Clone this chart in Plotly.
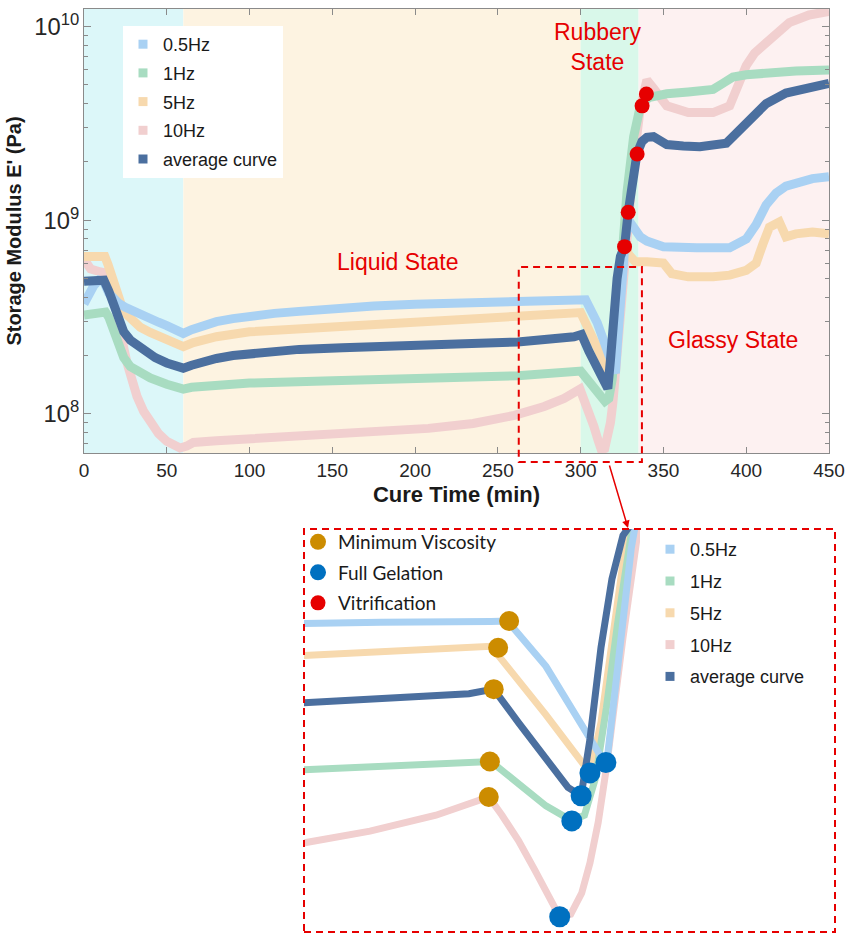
import plotly.graph_objects as go

W, H = 845, 935

# ---------------- data ----------------
t_05 = [0, 3, 6, 9, 12, 15, 18, 21, 25, 30, 35, 40, 45, 50, 55, 60, 65, 70, 80, 90, 100, 115, 130, 150,
        175, 200, 225, 250, 280, 300, 303, 310, 316, 321, 322.5, 324, 325.5, 327, 329, 332, 336, 340,
        350, 370, 390, 400, 406, 412, 418, 424, 432, 440, 450]
E_05 = [3.7e8, 4.2e8, 4.6e8, 4.9e8, 4.8e8, 4.2e8, 3.9e8, 3.72e8, 3.55e8, 3.37e8, 3.22e8, 3.1e8, 2.97e8,
        2.85e8, 2.72e8, 2.6e8, 2.72e8, 2.82e8, 2.99e8, 3.1e8, 3.2e8, 3.3e8, 3.38e8, 3.5e8, 3.6e8, 3.68e8,
        3.74e8, 3.8e8, 3.85e8, 3.87e8, 3.88e8, 2.95e8, 2.15e8, 1.62e8, 2.5e8, 4.0e8, 6.0e8, 8.0e8,
        1.0e9, 9.2e8, 8.2e8, 7.8e8, 7.3e8, 7.2e8, 7.2e8, 8.0e8, 9.5e8, 1.2e9, 1.38e9, 1.5e9, 1.58e9,
        1.64e9, 1.68e9]

t_1 = [0, 13, 15, 17, 19, 21, 24, 28, 34, 40, 50, 60, 65, 70, 80, 100, 150, 200, 262, 300, 305, 310,
       314.7, 317, 319, 321, 323, 325, 328, 332, 336, 341, 352, 365, 380, 386, 392, 400, 412, 430, 450]
E_1 = [3.24e8, 3.35e8, 3.15e8, 2.8e8, 2.45e8, 2.2e8, 1.95e8, 1.75e8, 1.62e8, 1.53e8, 1.42e8, 1.34e8,
       1.37e8, 1.38e8, 1.41e8, 1.44e8, 1.48e8, 1.52e8, 1.57e8, 1.66e8, 1.45e8, 1.27e8, 1.16e8, 1.2e8,
       1.5e8, 2.3e8, 3.8e8, 6.5e8, 1.4e9, 2.7e9, 3.87e9, 4.3e9, 4.5e9, 4.6e9, 4.74e9, 5.1e9, 5.5e9,
       5.65e9, 5.8e9, 5.9e9, 5.97e9]

t_5 = [0, 12.6, 14.5, 16, 18, 20, 23, 26, 30, 34, 40, 46, 53, 60, 66, 73, 80, 100, 125, 156, 200, 262,
       300, 310, 318, 320, 322, 324, 326, 330, 333, 340, 350, 355, 365, 380, 390, 400, 406, 410, 414,
       420, 424, 430, 440, 450]
E_5 = [6.5e8, 6.5e8, 5.9e8, 5.3e8, 4.6e8, 4.0e8, 3.55e8, 3.24e8, 3.0e8, 2.8e8, 2.63e8, 2.5e8, 2.35e8,
       2.22e8, 2.33e8, 2.43e8, 2.5e8, 2.65e8, 2.73e8, 2.8e8, 2.95e8, 3.13e8, 3.33e8, 2.2e8, 1.55e8,
       2.1e8, 3.5e8, 5.5e8, 7.3e8, 6.5e8, 6.1e8, 6.1e8, 6.0e8, 5.3e8, 5.1e8, 5.1e8, 5.2e8, 5.5e8,
       6.0e8, 7.5e8, 9.2e8, 9.8e8, 8.2e8, 8.5e8, 8.7e8, 8.5e8]

t_10 = [0, 4, 10, 15, 18, 20, 23, 26, 29, 32, 36, 40, 45, 50, 55, 58, 62, 66, 80, 100, 130, 156, 208,
        235, 260, 278, 290, 299.6, 302, 305, 308, 310.5, 312.5, 314.5, 316.5, 318, 319.5, 321, 324, 328,
        332, 336, 340, 344, 348, 352, 365, 380, 390, 395, 400, 405, 410, 416, 426, 438, 446, 450]
E_10 = [6.3e8, 5.6e8, 5.4e8, 5.3e8, 4.2e8, 3.2e8, 2.4e8, 1.83e8, 1.45e8, 1.23e8, 1.03e8, 9.0e7, 7.9e7,
        7.2e7, 6.8e7, 6.65e7, 6.8e7, 7.1e7, 7.25e7, 7.4e7, 7.65e7, 7.9e7, 8.4e7, 8.9e7, 9.8e7, 1.09e8,
        1.2e8, 1.34e8, 1.2e8, 1.03e8, 8.6e7, 7.3e7, 6.5e7, 6.6e7, 7.5e7, 9.0e7, 1.15e8, 1.6e8, 3.5e8,
        9.0e8, 2.0e9, 3.8e9, 5.3e9, 4.8e9, 4.3e9, 3.9e9, 3.6e9, 3.6e9, 3.9e9, 4.9e9, 6.3e9, 7.3e9,
        8.0e9, 9.0e9, 1.05e10, 1.15e10, 1.18e10, 1.2e10]

t_avg = [0, 5, 12, 15, 17, 19, 21, 24, 28, 32, 37, 43, 50, 56, 60, 65, 72, 80, 90, 100, 115, 130, 156,
         200, 262, 296, 300.5, 305, 310, 314, 316.4, 318, 320, 322, 324, 326.5, 328.7, 331, 334, 337,
         340, 344, 352, 362, 372, 388, 396, 404, 412, 424, 436, 444, 450]
E_avg = [4.83e8, 4.9e8, 4.9e8, 4.3e8, 3.85e8, 3.35e8, 2.95e8, 2.65e8, 2.4e8, 2.25e8, 2.1e8, 1.95e8,
         1.83e8, 1.76e8, 1.72e8, 1.78e8, 1.86e8, 1.93e8, 2.0e8, 2.05e8, 2.1e8, 2.15e8, 2.19e8, 2.25e8,
         2.35e8, 2.5e8, 2.57e8, 2.1e8, 1.7e8, 1.42e8, 1.35e8, 1.9e8, 3.3e8, 5.0e8, 6.5e8, 7.3e8, 1.1e9,
         1.6e9, 2.2e9, 2.55e9, 2.68e9, 2.7e9, 2.46e9, 2.42e9, 2.4e9, 2.5e9, 2.92e9, 3.43e9, 4.0e9,
         4.54e9, 4.85e9, 5.0e9, 5.1e9]

vit_t = [326.5, 328.7, 334.1, 337.1, 339.7]
vit_E = [7.3e8, 1.1e9, 2.2e9, 3.9e9, 4.49e9]

minvis_t = [303.3, 301.3, 300.5, 299.8, 299.6]
minvis_E = [3.88e8, 3.3e8, 2.57e8, 1.66e8, 1.34e8]

gel_t = [320.9, 318.0, 316.4, 314.7, 312.5]
gel_E = [1.65e8, 1.55e8, 1.35e8, 1.16e8, 6.5e7]

series_names = ["0.5Hz", "1Hz", "5Hz", "10Hz", "average curve"]
x_ticks = [0, 50, 100, 150, 200, 250, 300, 350, 400, 450]
state_bands = [(0, 60), (60, 300), (300, 335), (335, 450)]
state_labels = ["Liquid State", "Rubbery<br>State", "Glassy State"]

# ---------------- styling ----------------
colors = {"0.5Hz": "#a9d1f3", "1Hz": "#a8dcc1", "5Hz": "#f7d9ae", "10Hz": "#f1cfcf",
          "average curve": "#4b6f9f"}
band_colors = ["#dcf7f9", "#fdf3e1", "#d9f8ea", "#fdf1f1"]
RED = "#e60000"
GOLD = "#cc8c00"
BLUE = "#0070c0"
FONT = "Arial, Liberation Sans, sans-serif"

X_LEFT, X_RIGHT = 84, 829


def px(x):
    return x / W


def py(y):
    return 1 - y / H


def tx(t):
    # pixel position of a time value on the main axis (for frame shapes)
    return X_LEFT + (X_RIGHT - X_LEFT) * t / 450


data = {"0.5Hz": (t_05, E_05), "1Hz": (t_1, E_1), "5Hz": (t_5, E_5), "10Hz": (t_10, E_10),
        "average curve": (t_avg, E_avg)}
draw_order = ["10Hz", "5Hz", "1Hz", "0.5Hz", "average curve"]

fig = go.Figure()

# main curves
for n in draw_order:
    t, E = data[n]
    fig.add_trace(go.Scatter(x=t, y=E, mode="lines", line=dict(color=colors[n], width=9),
                             showlegend=False, hoverinfo="skip", xaxis="x", yaxis="y"))
# inset curves
for n in draw_order:
    t, E = data[n]
    fig.add_trace(go.Scatter(x=t, y=E, mode="lines", line=dict(color=colors[n], width=7),
                             showlegend=False, hoverinfo="skip", xaxis="x2", yaxis="y2"))

# legend entries (square markers) for main and inset legends
for i, n in enumerate(series_names):
    for lg in ["legend", "legend2"]:
        fig.add_trace(go.Scatter(x=[None], y=[None], mode="markers", name=n,
                                 marker=dict(symbol="square", size=9, color=colors[n]),
                                 legend=lg, legendgroup=lg + n, legendrank=i + 1,
                                 xaxis="x", yaxis="y"))

# characteristic points
fig.add_trace(go.Scatter(x=minvis_t, y=minvis_E, mode="markers", name="Minimum Viscosity",
                         marker=dict(color=GOLD, size=20), legend="legend3", legendgroup="mv",
                         legendrank=1, xaxis="x2", yaxis="y2"))
fig.add_trace(go.Scatter(x=gel_t, y=gel_E, mode="markers", name="Full Gelation",
                         marker=dict(color=BLUE, size=21), legend="legend3", legendgroup="fg",
                         legendrank=2, xaxis="x2", yaxis="y2"))
fig.add_trace(go.Scatter(x=vit_t, y=vit_E, mode="markers", name="Vitrification",
                         marker=dict(color=RED, size=15), legend="legend3", legendgroup="vi",
                         legendrank=3, xaxis="x", yaxis="y"))

shapes = []
for (a, b), c in zip(state_bands, band_colors):
    shapes.append(dict(type="rect", xref="x", yref="y domain", x0=a, x1=b, y0=0, y1=1,
                       fillcolor=c, line=dict(width=0), layer="below"))
# zoom box on main chart and the inset frame
shapes.append(dict(type="rect", xref="x", yref="paper", x0=262.6, x1=337, y0=py(462),
                   y1=py(267), line=dict(color=RED, width=2, dash="7px,5px"), layer="above"))
shapes.append(dict(type="rect", xref="paper", yref="paper", x0=px(304), x1=px(835), y0=py(932),
                   y1=py(529), line=dict(color=RED, width=2, dash="7px,5px"), layer="above"))

annotations = [
    dict(text=state_labels[0], x=px(397), y=py(262), xref="paper", yref="paper", showarrow=False,
         font=dict(family=FONT, size=23, color=RED), xanchor="center", yanchor="middle"),
    dict(text=state_labels[1], x=px(597), y=py(47), xref="paper", yref="paper", showarrow=False,
         font=dict(family=FONT, size=23, color=RED), xanchor="center", yanchor="middle"),
    dict(text=state_labels[2], x=px(733), y=py(340), xref="paper", yref="paper", showarrow=False,
         font=dict(family=FONT, size=23, color=RED), xanchor="center", yanchor="middle"),
    dict(text="", x=px(628), y=py(528), xref="paper", yref="paper", showarrow=True, ax=-19, ay=-64,
         arrowhead=2, arrowsize=1, arrowwidth=1.5, arrowcolor=RED),
]

axis_col = "#8a8a8a"
tick_font = dict(family=FONT, size=19, color="#262626")

fig.update_layout(
    width=W, height=H, autosize=False,
    margin=dict(l=0, r=0, t=0, b=0),
    paper_bgcolor="white", plot_bgcolor="white",
    shapes=shapes, annotations=annotations,
    xaxis=dict(domain=[px(X_LEFT), px(X_RIGHT)], range=[0, 450], anchor="y",
               tickvals=x_ticks, ticks="inside", ticklen=6, tickcolor=axis_col,
               ticklabeloverflow="allow",
               showline=True, linecolor=axis_col, linewidth=1, mirror="ticks",
               showgrid=False, zeroline=False, tickfont=tick_font, automargin=False,
               title=dict(text="<b>Cure Time (min)</b>", font=dict(family=FONT, size=22, color="#1a1a1a"),
                          standoff=6)),
    yaxis=dict(domain=[py(453), py(9)], type="log", range=[7.797, 10.0915], anchor="x",
               dtick=1, exponentformat="power", ticks="inside", ticklen=7, tickcolor=axis_col,
               ticklabeloverflow="allow",
               minor=dict(ticks="inside", ticklen=4, tickcolor=axis_col, dtick="D1", showgrid=False),
               showline=True, linecolor=axis_col, linewidth=1, mirror="ticks",
               showgrid=False, zeroline=False, tickfont=tick_font, automargin=False,
               title=dict(text="<b>Storage Modulus E' (Pa)</b>",
                          font=dict(family=FONT, size=20, color="#1a1a1a"), standoff=7)),
    xaxis2=dict(domain=[px(304), px(640)], range=[266, 327.1], anchor="y2", visible=False,
                showgrid=False, zeroline=False),
    yaxis2=dict(domain=[py(932), py(529)], type="log", range=[7.773, 8.83], anchor="x2",
                visible=False, showgrid=False, zeroline=False),
    legend=dict(x=px(123), y=py(26), xanchor="left", yanchor="top", bgcolor="white",
                borderwidth=0, font=dict(family=FONT, size=18, color="#1a1a1a"),
                tracegroupgap=2.3, itemclick=False),
    legend2=dict(x=px(650), y=py(531), xanchor="left", yanchor="top", bgcolor="rgba(0,0,0,0)",
                 borderwidth=0, font=dict(family=FONT, size=18, color="#1a1a1a"),
                 tracegroupgap=5.4),
    legend3=dict(x=px(298), y=py(523), xanchor="left", yanchor="top", bgcolor="rgba(0,0,0,0)",
                 borderwidth=0, font=dict(family="Lato, Open Sans, sans-serif", size=19, color="#1a1a1a"),
                 tracegroupgap=2.8),
)

fig.write_html("out.html")
